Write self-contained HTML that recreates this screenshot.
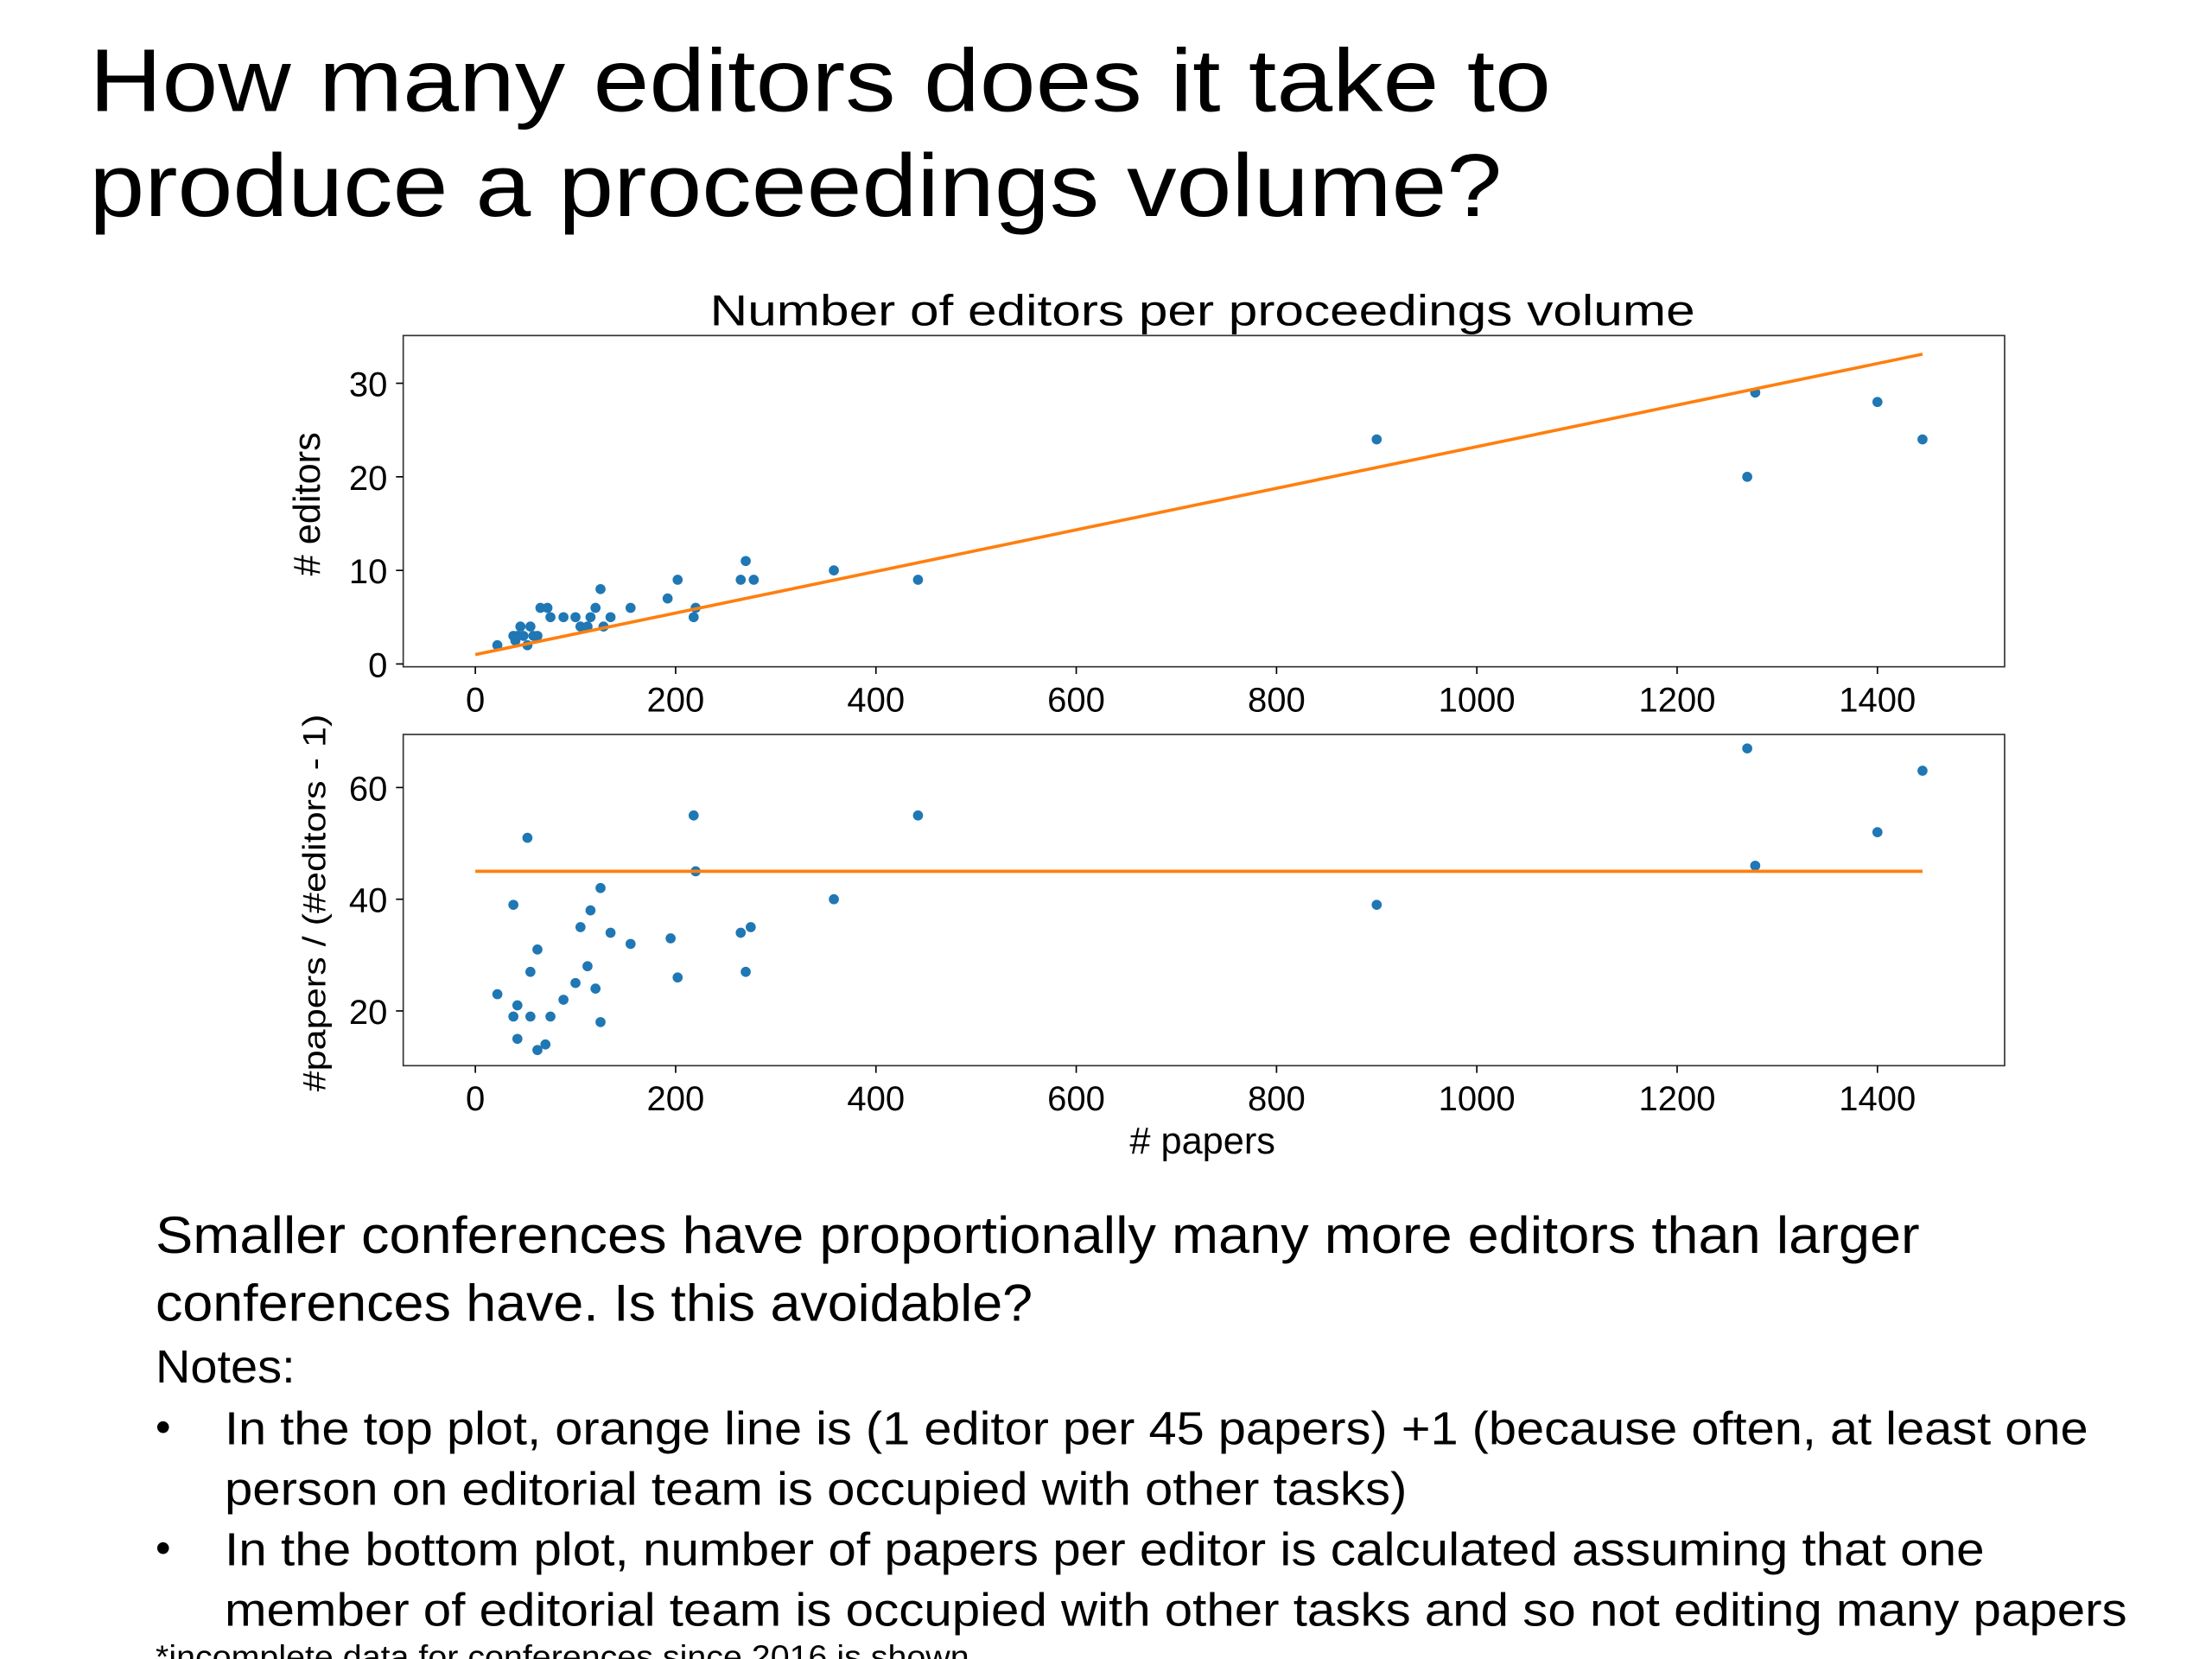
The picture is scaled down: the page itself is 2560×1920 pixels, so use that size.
<!DOCTYPE html>
<html><head><meta charset="utf-8"><style>html,body{margin:0;padding:0;background:#fff}svg{display:block}text{font-family:"Liberation Sans",sans-serif;fill:#000}</style></head>
<body>
<svg id="s" width="2560" height="1920" viewBox="0 0 1536 1152" xmlns="http://www.w3.org/2000/svg">
<rect width="1536" height="1152" fill="#fff"/>
<text x="62" y="77" font-size="62" textLength="1015" lengthAdjust="spacingAndGlyphs">How many editors does it take to</text>
<text x="62" y="150" font-size="62" textLength="981" lengthAdjust="spacingAndGlyphs">produce a proceedings volume?</text>
<text x="493" y="226" font-size="30" textLength="684" lengthAdjust="spacingAndGlyphs">Number of editors per proceedings volume</text>
<g id="top"></g>
<g id="bot"></g>
<text transform="translate(222,350) rotate(-90)" text-anchor="middle" font-size="26">#  editors</text>
<text transform="translate(226,627) rotate(-90)" text-anchor="middle" font-size="22" textLength="262" lengthAdjust="spacingAndGlyphs">#papers / (#editors - 1)</text>
<text x="835" y="801" text-anchor="middle" font-size="26"># papers</text>
<text x="108" y="870" font-size="36" textLength="1225" lengthAdjust="spacingAndGlyphs">Smaller conferences have proportionally many more editors than larger</text>
<text x="108" y="917" font-size="36" textLength="609" lengthAdjust="spacingAndGlyphs">conferences have. Is this avoidable?</text>
<text x="108" y="960" font-size="32" textLength="97" lengthAdjust="spacingAndGlyphs">Notes:</text>
<text x="108" y="1001" font-size="30">•</text>
<text x="156" y="1003" font-size="32" textLength="1294" lengthAdjust="spacingAndGlyphs">In the top plot, orange line is (1 editor per 45 papers) +1 (because often, at least one</text>
<text x="156" y="1045" font-size="32" textLength="821" lengthAdjust="spacingAndGlyphs">person on editorial team is occupied with other tasks)</text>
<text x="108" y="1085" font-size="30">•</text>
<text x="156" y="1087" font-size="32" textLength="1222" lengthAdjust="spacingAndGlyphs">In the bottom plot, number of papers per editor is calculated assuming that one</text>
<text x="156" y="1129" font-size="32" textLength="1321" lengthAdjust="spacingAndGlyphs">member of editorial team is occupied with other tasks and so not editing many papers</text>
<text x="108" y="1158" font-size="22" textLength="565" lengthAdjust="spacingAndGlyphs">*incomplete data for conferences since 2016 is shown</text>
</svg>
<script>
const papers = [22,38,40,42,45,48,52,55,58,62,65,72,75,88,100,105,112,115,120,125,128,135,155,192,202,218,220,265,270,278,358,442,900,1270,1278,1400,1445];
const editors = [2,3,2.5,3,4,3,2,4,3,3,6,6,5,5,5,4,4,5,6,8,4,5,6,7,9,5,6,9,11,9,10,9,24,20,29,28,24];
const papers2 = [22,38,38,42,42,52,55,55,62,62,70,75,88,100,105,112,115,120,125,125,135,155,195,202,218,220,265,270,275,358,442,900,1270,1278,1400,1445];
const ratio = [23,39,19,21,15,51,27,19,31,13,14,19,22,25,35,28,38,24,42,18,34,32,33,26,55,45,34,27,35,40,55,39,67,46,52,63];
const xTicks = [0,200,400,600,800,1000,1200,1400];
const yTicksTop = [0,10,20,30];
const yTicksBot = [20,40,60];
const editorsPerPaper = 1/45, lineMax = 1445, ratioLine = 45;

const NS='http://www.w3.org/2000/svg';
function mk(p,t,a){const e=document.createElementNS(NS,t);for(const k in a)e.setAttribute(k,a[k]);p.appendChild(e);return e;}
const X0=280,X1=1392,xmin=-72,xmax=1527;
const xs=v=>X0+(v-xmin)/(xmax-xmin)*(X1-X0);
function panel(g,Y0,Y1,ymin,ymax,yt,px,py,line,prefix){
  const ys=v=>Y1-(v-ymin)/(ymax-ymin)*(Y1-Y0);
  const fr=mk(g,'rect',{x:X0,y:Y0,width:X1-X0,height:Y1-Y0,fill:'none',stroke:'#333','stroke-width':1});
  
  
  xTicks.forEach(t=>{
    const l=mk(g,'line',{x1:xs(t),x2:xs(t),y1:Y1,y2:Y1+5,stroke:'#000'});
    
    
    const tx=mk(g,'text',{x:xs(t),y:Y1+31,'text-anchor':'middle','font-size':24});tx.textContent=t;
    
    
  });
  yt.forEach(t=>{
    const l=mk(g,'line',{x1:X0-5,x2:X0,y1:ys(t),y2:ys(t),stroke:'#000'});
    
    
    const tx=mk(g,'text',{x:X0-11,y:ys(t)+9,'text-anchor':'end','font-size':24});tx.textContent=t;
    
    
  });
  px.forEach((v,i)=>{
    const c=mk(g,'circle',{cx:xs(v),cy:ys(py[i]),r:3.5,fill:'#1f77b4'});
    
    
  });
  const ln=mk(g,'line',{x1:xs(0),y1:ys(line(0)),x2:xs(lineMax),y2:ys(line(lineMax)),stroke:'#ff7f0e','stroke-width':2.2});
  
  
}
panel(document.getElementById('top'),233,463,-0.3,35.1,yTicksTop,papers,editors,x=>x*editorsPerPaper+1,'top');
panel(document.getElementById('bot'),510,740,10.2,69.5,yTicksBot,papers2,ratio,x=>ratioLine,'bottom');
</script>
</body></html>
